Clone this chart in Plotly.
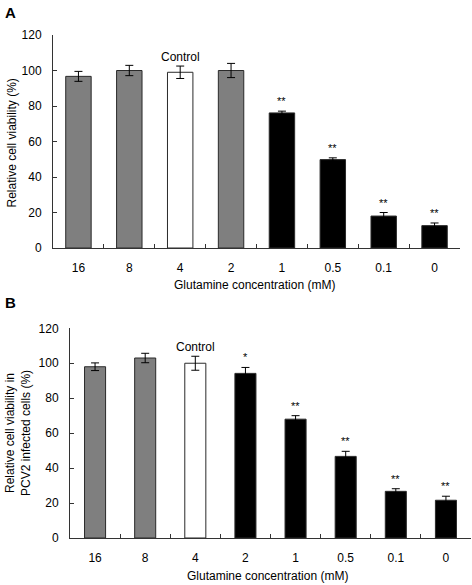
import plotly.graph_objects as go

# ---- data ----
categories = ["16", "8", "4", "2", "1", "0.5", "0.1", "0"]

viability_a = [96.7, 100.0, 99.0, 100.0, 76.1, 49.8, 18.0, 12.6]
error_a = [2.8, 2.9, 3.5, 4.0, 1.0, 1.0, 2.0, 1.5]
sig_a = ["", "", "", "", "**", "**", "**", "**"]

viability_b = [98.0, 103.0, 100.0, 94.2, 68.0, 46.7, 26.7, 21.6]
error_b = [2.2, 2.7, 4.0, 3.4, 2.0, 2.9, 1.5, 2.3]
sig_b = ["", "", "", "*", "**", "**", "**", "**"]

control_label = "Control"
control_index = 2

# ---- styles ----
FONT = "Liberation Sans, Arial, sans-serif"
GRAY = "#7f7f7f"
colors_a = [GRAY, GRAY, "white", GRAY, "black", "black", "black", "black"]
colors_b = [GRAY, GRAY, "white", "black", "black", "black", "black", "black"]
lines_a = ["#2a2a2a"] * 8
lines_b = ["#2a2a2a"] * 8

W, H = 472, 585


def px(x):
    return x / W


def py(y):
    return 1 - y / H


fig = go.Figure()

fig.add_trace(go.Bar(
    x=categories, y=viability_a, xaxis="x", yaxis="y",
    width=0.5,
    marker=dict(color=colors_a, line=dict(color=lines_a, width=1)),
    error_y=dict(type="data", array=error_a, visible=True, color="black", thickness=1, width=4),
    showlegend=False, hoverinfo="skip",
))
fig.add_trace(go.Bar(
    x=categories, y=viability_b, xaxis="x2", yaxis="y2",
    width=0.42,
    marker=dict(color=colors_b, line=dict(color=lines_b, width=1)),
    error_y=dict(type="data", array=error_b, visible=True, color="black", thickness=1, width=4),
    showlegend=False, hoverinfo="skip",
))

axis_common_x = dict(
    type="category", tickson="boundaries", ticks="inside", ticklen=4, tickcolor="#333",
    showline=True, linecolor="#333", linewidth=1, showgrid=False, zeroline=False,
    range=[-0.5, 7.5], tickfont=dict(family=FONT, size=12, color="black"),
    ticklabelstandoff=9, automargin=False, fixedrange=True,
)
axis_common_y = dict(
    range=[0, 120], dtick=20, ticks="inside", ticklen=4, tickcolor="#333",
    showline=True, linecolor="#333", linewidth=1, showgrid=False, zeroline=False,
    tickfont=dict(family=FONT, size=12, color="black"),
    ticklabelstandoff=8, automargin=False, fixedrange=True,
)

annotations = []
for vals, errs, sigs, xr, yr in [
    (viability_a, error_a, sig_a, "x", "y"),
    (viability_b, error_b, sig_b, "x2", "y2"),
]:
    for i, (v, e, s) in enumerate(zip(vals, errs, sigs)):
        if s:
            annotations.append(dict(
                x=i, y=v + e, xref=xr, yref=yr, text=s, showarrow=False,
                yanchor="bottom", yshift=2, font=dict(family=FONT, size=11, color="black"),
            ))
    annotations.append(dict(
        x=control_index, y=vals[control_index] + errs[control_index],
        xref=xr, yref=yr, text=control_label, showarrow=False,
        yanchor="bottom", yshift=0, font=dict(family=FONT, size=12, color="black"),
    ))

text_font = dict(family=FONT, size=12, color="black")
annotations += [
    dict(x=px(10.5), y=py(12.5), xref="paper", yref="paper", text="<b>A</b>", showarrow=False,
         xanchor="center", yanchor="middle", font=dict(family=FONT, size=15, color="black")),
    dict(x=px(10), y=py(302.5), xref="paper", yref="paper", text="<b>B</b>", showarrow=False,
         xanchor="center", yanchor="middle", font=dict(family=FONT, size=15, color="black")),
    dict(x=px(254), y=py(285), xref="paper", yref="paper", text="Glutamine concentration (mM)",
         showarrow=False, xanchor="center", yanchor="middle", font=text_font),
    dict(x=px(267), y=py(576), xref="paper", yref="paper", text="Glutamine concentration (mM)",
         showarrow=False, xanchor="center", yanchor="middle", font=text_font),
    dict(x=px(11), y=py(143.5), xref="paper", yref="paper", text="Relative cell viability (%)",
         showarrow=False, xanchor="center", yanchor="middle", textangle=-90, font=text_font),
    dict(x=px(18), y=py(433), xref="paper", yref="paper",
         text="Relative cell viability in<br>PCV2 infected cells (%)",
         showarrow=False, xanchor="center", yanchor="middle", textangle=-90, font=text_font),
]

fig.update_layout(
    width=W, height=H,
    margin=dict(l=0, r=0, t=0, b=0),
    paper_bgcolor="white", plot_bgcolor="white",
    xaxis=dict(axis_common_x, domain=[px(53), px(460)], anchor="y"),
    yaxis=dict(axis_common_y, domain=[py(248), py(35)], anchor="x"),
    xaxis2=dict(axis_common_x, domain=[px(70), px(471)], anchor="y2"),
    yaxis2=dict(axis_common_y, domain=[py(538), py(328.3)], anchor="x2"),
    annotations=annotations,
    font=dict(family=FONT, color="black"),
    hovermode=False,
)

fig.write_html(
    "out.html",
    config={"displayModeBar": False, "staticPlot": True},
    post_script="document.body.style.margin='0px'; document.body.style.overflow='hidden';",
)
